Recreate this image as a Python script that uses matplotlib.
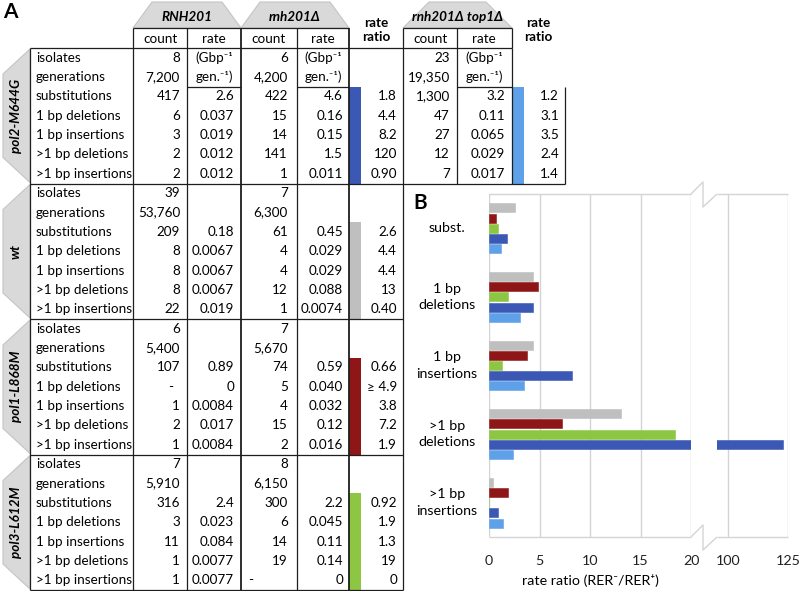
import matplotlib
matplotlib.use("Agg")
import matplotlib.pyplot as plt
from matplotlib.patches import Polygon, Rectangle
from matplotlib.transforms import blended_transform_factory

plt.rcParams['font.family'] = ['Lato', 'DejaVu Sans']

# ---------------- data ----------------
strains = ["pol2-M644G", "wt", "pol1-L868M", "pol3-L612M"]
row_labels = ["isolates", "generations", "substitutions", "1 bp deletions",
              "1 bp insertions", ">1 bp deletions", ">1 bp insertions"]

RNH201_count = [["8", "7,200", "417", "6", "3", "2", "2"],
                ["39", "53,760", "209", "8", "8", "8", "22"],
                ["6", "5,400", "107", "-", "1", "2", "1"],
                ["7", "5,910", "316", "3", "11", "1", "1"]]
RNH201_rate = [["2.6", "0.037", "0.019", "0.012", "0.012"],
               ["0.18", "0.0067", "0.0067", "0.0067", "0.019"],
               ["0.89", "0", "0.0084", "0.017", "0.0084"],
               ["2.4", "0.023", "0.084", "0.0077", "0.0077"]]
rnh201d_count = [["6", "4,200", "422", "15", "14", "141", "1"],
                 ["7", "6,300", "61", "4", "4", "12", "1"],
                 ["7", "5,670", "74", "5", "4", "15", "2"],
                 ["8", "6,150", "300", "6", "14", "19", "-"]]
rnh201d_rate = [["4.6", "0.16", "0.15", "1.5", "0.011"],
                ["0.45", "0.029", "0.029", "0.088", "0.0074"],
                ["0.59", "0.040", "0.032", "0.12", "0.016"],
                ["2.2", "0.045", "0.11", "0.14", "0"]]
rate_ratio = [["1.8", "4.4", "8.2", "120", "0.90"],
              ["2.6", "4.4", "4.4", "13", "0.40"],
              ["0.66", "\u2265 4.9", "3.8", "7.2", "1.9"],
              ["0.92", "1.9", "1.3", "19", "0"]]
top1_count = ["23", "19,350", "1,300", "47", "27", "12", "7"]
top1_rate = ["3.2", "0.11", "0.065", "0.029", "0.017"]
top1_ratio = ["1.2", "3.1", "3.5", "2.4", "1.4"]

# panel B
categories = ["subst.", "1 bp\ndeletions", "1 bp\ninsertions", ">1 bp\ndeletions", ">1 bp\ninsertions"]
series_names = ["wt", "pol1-L868M", "pol3-L612M", "pol2-M644G", "pol2-M644G top1\u0394"]
ratio_wt = [2.6, 4.4, 4.4, 13.1, 0.40]
ratio_pol1 = [0.66, 4.9, 3.8, 7.2, 1.9]
ratio_pol3 = [0.92, 1.9, 1.3, 18.4, 0.0]
ratio_pol2 = [1.8, 4.4, 8.2, 123.0, 0.90]
ratio_top1 = [1.2, 3.1, 3.5, 2.4, 1.4]
left_ticks = [0, 5, 10, 15, 20]
right_ticks = [100, 125]

C_GRAY = '#bfbfbf'
C_RED = '#8e1616'
C_GREEN = '#8dc642'
C_BLUE = '#3a58b4'
C_LBLUE = '#5ea1e9'
block_colors = [C_BLUE, C_GRAY, C_RED, C_GREEN]
series_colors = [C_GRAY, C_RED, C_GREEN, C_BLUE, C_LBLUE]
series_vals = [ratio_wt, ratio_pol1, ratio_pol3, ratio_pol2, ratio_top1]

FS = 9.7
FSB = 10.3
W, H = 800, 591
fig = plt.figure(figsize=(W / 100, H / 100), dpi=100)
ov = fig.add_axes([0, 0, 1, 1])
ov.set_xlim(0, W)
ov.set_ylim(H, 0)
ov.axis('off')

LC = '#1e1e1e'
LW = 0.9


def line(xs, ys, c=LC, lw=LW):
    ov.plot(xs, ys, color=c, lw=lw, solid_capstyle='butt', zorder=3)


def T(x, y, s, ha='left', **kw):
    kw.setdefault('fontsize', FS)
    ov.text(x, y, s, ha=ha, va='center', **kw)


# ---------------- panel A ----------------
T(3, 12, "A", fontsize=15, fontweight='bold')

tab_fc, tab_ec = '#d9d9d9', '#c4c4c4'
for (xa, xb, xc, xd), name in [((133, 152, 222, 241), "RNH201"),
                               ((241, 260, 330, 349), "rnh201\u0394"),
                               ((403, 429, 486, 512), "rnh201\u0394 top1\u0394")]:
    ov.add_patch(Polygon([(xa, 28), (xb, 2), (xc, 2), (xd, 28)], closed=True,
                         fc=tab_fc, ec=tab_ec, lw=0.8, zorder=1))
    T((xa + xd) / 2, 17, name, ha='center', fontweight='bold', style='italic')

T(376, 30, "rate\nratio", ha='center', fontweight='bold', linespacing=1.25)
T(538, 30, "rate\nratio", ha='center', fontweight='bold', linespacing=1.25)

# header boxes
for xs_ in ([133, 187, 241, 297, 349], [403, 457, 512]):
    line([xs_[0], xs_[-1]], [28, 28])
    for x in xs_:
        line([x, x], [28, 48], lw=1.3 if x in (241, 349) else LW)
for xc, s in [(160, "count"), (214, "rate"), (269, "count"), (323, "rate"),
              (430, "count"), (484, "rate")]:
    T(xc, 39, s, ha='center')

TOP = 48
BH = 135.5
RH = BH / 7
cols = [30, 133, 187, 241, 297, 349, 403]

# outer lines of main table
line([30, 512], [TOP, TOP])
for x in cols:
    line([x, x], [TOP, TOP + 4 * BH], lw=1.3 if x in (241, 349) else LW)
for b in range(4):
    y0 = TOP + b * BH
    y1 = y0 + BH
    line([30, 403], [y1, y1])
    # left tab
    ov.add_patch(Polygon([(30, y0 + 1), (3, y0 + 26), (3, y1 - 26), (30, y1 - 1)],
                         closed=True, fc=tab_fc, ec=tab_ec, lw=0.8, zorder=1))
    T(16, (y0 + y1) / 2, strains[b], ha='center', rotation=90,
      fontweight='bold', style='italic')
    # ratio colour bar
    ov.add_patch(Rectangle((349, y0 + 2 * RH), 12, BH - 2 * RH, fc=block_colors[b],
                           ec='none', zorder=2))
    for i in range(7):
        yc = y0 + (i + 0.5) * RH
        T(36, yc, row_labels[i])
        c1 = RNH201_count[b][i]
        c2 = rnh201d_count[b][i]
        if c1 == '-':
            T(171, yc, c1, ha='center')
        else:
            T(180, yc, c1, ha='right')
        if c2 == '-':
            T(251, yc, c2, ha='center')
        else:
            T(288, yc, c2, ha='right')
        if i >= 2:
            T(234, yc, RNH201_rate[b][i - 2], ha='right')
            T(343, yc, rnh201d_rate[b][i - 2], ha='right')
            T(397, yc, rate_ratio[b][i - 2], ha='right')

# units in the first block
for xc in (214, 323, 484):
    T(xc, TOP + 0.5 * RH, "(Gbp\u207b\u00b9", ha='center')
    T(xc, TOP + 1.5 * RH, "gen.\u207b\u00b9)", ha='center')
line([187, 241], [TOP + 2 * RH, TOP + 2 * RH])
line([297, 349], [TOP + 2 * RH, TOP + 2 * RH])
line([457, 512], [TOP + 2 * RH, TOP + 2 * RH])

# top1 block
for x in (457, 512):
    line([x, x], [TOP, TOP + BH])
line([565, 565], [TOP + 2 * RH, TOP + BH])
line([403, 565], [TOP + BH, TOP + BH])
ov.add_patch(Rectangle((512, TOP + 2 * RH), 12, BH - 2 * RH, fc=C_LBLUE, ec='none', zorder=2))
for i in range(7):
    yc = TOP + (i + 0.5) * RH
    T(450, yc, top1_count[i], ha='right')
    if i >= 2:
        T(505, yc, top1_rate[i - 2], ha='right')
        T(559, yc, top1_ratio[i - 2], ha='right')

# ---------------- panel B ----------------
T(413, 203, "B", fontsize=15, fontweight='bold')

PX0, PX1, PX2, PX3 = 489, 691, 717, 788
PY0, PY1 = 194, 537
GC = '#d4d4d4'

axL = fig.add_axes([PX0 / W, (H - PY1) / H, (PX1 - PX0) / W, (PY1 - PY0) / H])
axR = fig.add_axes([PX2 / W, (H - PY1) / H, (PX3 - PX2) / W, (PY1 - PY0) / H])
axL.set_xlim(0, 20)
axR.set_xlim(100 - 11 / 2.4, 125)
n = len(categories)
for ax, ticks in ((axL, left_ticks), (axR, right_ticks)):
    ax.set_ylim(n - 0.5, -0.5)
    ax.patch.set_alpha(0)
    for s in ax.spines.values():
        s.set_visible(False)
    for t in ticks:
        ax.axvline(t, color=GC, lw=1.0, zorder=0)
    ax.set_xticks(ticks)
    ax.set_xticklabels([str(t) for t in ticks])
    ax.set_yticks([])
    ax.tick_params(axis='x', length=0, pad=13, labelsize=FSB, colors='#222222')
    for k, (vals, col) in enumerate(zip(series_vals, series_colors)):
        ys = [g + (k - 2) * 0.149 for g in range(n)]
        ax.barh(ys, vals, height=0.13, color=col, edgecolor=col, lw=0.4, zorder=2)

axL.set_xlabel("rate ratio (RER\u207b/RER\u207a)", fontsize=FSB, labelpad=5)
tr = blended_transform_factory(axL.transAxes, axL.transData)
for g, cat in enumerate(categories):
    axL.text((447 - PX0) / (PX1 - PX0), g, cat, transform=tr, ha='center', va='center',
             fontsize=FSB, linespacing=1.45)

# chart frame with break notches
for yb in (PY0, PY1):
    line([PX0, PX1], [yb, yb], c=GC, lw=1.0)
    line([PX1, 703, 703, PX2], [yb, yb - 12, yb + 13, yb], c=GC, lw=1.0)
    line([PX2, PX3], [yb, yb], c=GC, lw=1.0)

fig.savefig("out.png", dpi=100)
